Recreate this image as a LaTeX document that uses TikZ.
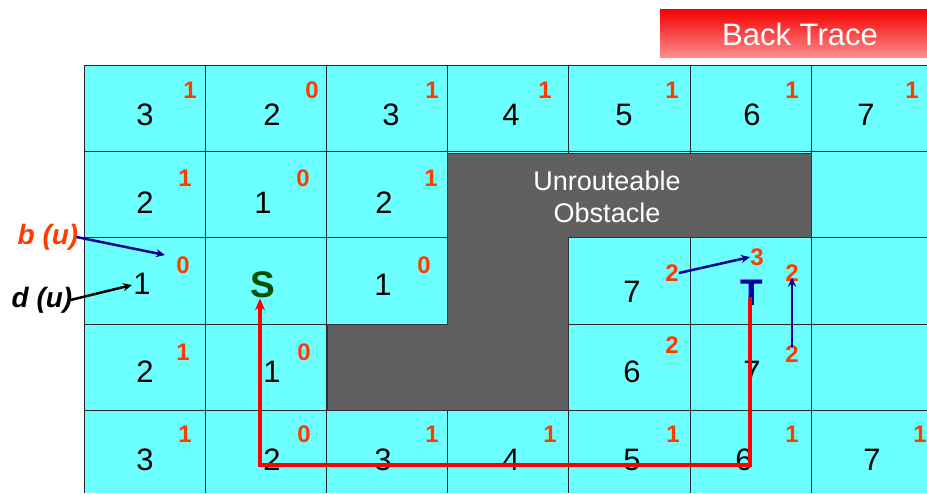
\documentclass[tikz,border=0pt]{standalone}
\usepackage{fontspec}
\setmainfont{Liberation Sans}
\usetikzlibrary{arrows.meta}
\definecolor{cellcyan}{RGB}{107,255,255}
\definecolor{obst}{RGB}{96,96,96}
\definecolor{rednum}{RGB}{255,60,0}
\definecolor{arrblue}{RGB}{0,0,150}
\definecolor{sgreen}{RGB}{0,80,0}
\definecolor{tblue}{RGB}{0,0,170}
\begin{document}
\begin{tikzpicture}[x=1pt,y=-1pt,
  num/.style={font=\fontsize{31}{33}\selectfont, inner sep=0pt},
  bnum/.style={font=\fontsize{24}{26}\selectfont\bfseries, text=rednum, inner sep=0pt},
  gridline/.style={line width=0.8pt, draw=black!85},
  bluearrow/.style={draw=arrblue, line width=2.5pt, -{Stealth[length=9pt,width=8pt]}},
  blackarrow/.style={draw=black, line width=2.5pt, -{Stealth[length=9pt,width=8pt]}},
  tracepath/.style={draw=red, line width=3.2pt, -{Stealth[length=12pt,width=10pt]}},
  lbl/.style={font=\fontsize{28}{30}\selectfont\bfseries\itshape, inner sep=1pt}]
\useasboundingbox (0,0) rectangle (927,493);
% background cells
\fill[cellcyan] (84,65) rectangle (927,493);
% grid
\foreach \x in {84,205,326,447,568,690,811} \draw[gridline] (\x,65) -- (\x,493);
\foreach \y in {65,151,237,324,410} \draw[gridline] (84,\y) -- (927,\y);
% obstacle
\draw[fill=obst, draw=black!80, line width=0.8pt]
  (447,153) -- (811,153) -- (811,237) -- (568,237) -- (568,410) -- (327,410)
  -- (327,324) -- (447,324) -- cycle;
\node[align=center, text=white, font=\fontsize{27}{32}\selectfont] (obsttext) at (607,197) {Unrouteable\\Obstacle};
% Back Trace button
\shade[top color=red!95!black, bottom color=red!45!white] (660,9) rectangle (927,57);
\node[text=white, font=\fontsize{31}{33}\selectfont] (backtrace) at (800,34) {Back Trace};
% row 0
\node[num] (n00) at (145,115) {3};
\node[num] (n01) at (272,115) {2};
\node[num] (n02) at (391,115) {3};
\node[num] (n03) at (511,115) {4};
\node[num] (n04) at (624,115) {5};
\node[num] (n05) at (752,115) {6};
\node[num] (n06) at (866,115) {7};
\node[bnum] (r00) at (190,90) {1};
\node[bnum] (r01) at (312,90) {0};
\node[bnum] (r02) at (432,90) {1};
\node[bnum] (r03) at (545,90) {1};
\node[bnum] (r04) at (672,90) {1};
\node[bnum] (r05) at (792,90) {1};
\node[bnum] (r06) at (912,90) {1};
% row 1
\node[num] (n10) at (145,203) {2};
\node[num] (n11) at (263,203) {1};
\node[num] (n12) at (384,203) {2};
\node[bnum] (r10) at (185,178) {1};
\node[bnum] (r11) at (303,178) {0};
\node[bnum] (r12) at (431,178) {1};
% row 2
\node[num] (n20) at (142,284) {1};
\node[font=\fontsize{37}{39}\selectfont\bfseries, text=sgreen, inner sep=0pt] (S) at (263,285) {S};
\node[num] (n22) at (383,285) {1};
\node[num] (n24) at (632,292) {7};
\node[font=\fontsize{37}{39}\selectfont\bfseries, text=tblue, inner sep=0pt] (T) at (752,293) {T};
\node[bnum] (r20) at (183,265) {0};
\node[bnum] (r22) at (424,265) {0};
\node[bnum] (r24) at (672,273) {2};
\node[bnum] (r25a) at (757,257) {3};
\node[bnum] (r25b) at (792,273) {2};
% row 3
\node[num] (n30) at (145,372) {2};
\node[num] (n31) at (272,372) {1};
\node[num] (n34) at (632,372) {6};
\node[num] (n35) at (752,372) {7};
\node[bnum] (r30) at (183,352) {1};
\node[bnum] (r31) at (304,352) {0};
\node[bnum] (r34) at (672,345) {2};
\node[bnum] (r35) at (792,354) {2};
% row 4
\node[num] (n40) at (145,460) {3};
\node[num] (n41) at (272,460) {2};
\node[num] (n42) at (383,460) {3};
\node[num] (n43) at (511,460) {4};
\node[num] (n44) at (632,460) {5};
\node[num] (n45) at (744,460) {6};
\node[num] (n46) at (872,460) {7};
\node[bnum] (r40) at (185,434) {1};
\node[bnum] (r41) at (304,434) {0};
\node[bnum] (r42) at (432,434) {1};
\node[bnum] (r43) at (550,434) {1};
\node[bnum] (r44) at (673,434) {1};
\node[bnum] (r45) at (792,434) {1};
\node[bnum] (r46) at (920,434) {1};
% labels
\node[lbl, text=rednum] (bu) at (48,237) {b (u)};
\node[lbl, text=black] (du) at (42,300) {d (u)};
\coordinate (butip) at (165,255);
\coordinate (dutip) at (132,285);
\draw[bluearrow] ([xshift=-3pt]bu.east) -- (butip);
\draw[blackarrow] ([xshift=-3pt]du.east) -- (dutip);
% arrows near T
\draw[bluearrow] (r24.east) -- (r25a.west);
\draw[bluearrow] ([yshift=-2pt]r35.north) -- ([yshift=4pt]r25b.south);
% back trace path
\coordinate (tstart) at (750,297);
\coordinate (corner1) at (750,465);
\coordinate (corner2) at (260,465);
\draw[tracepath, line join=miter] (tstart) -- (corner1) -- (corner2) -- (S.south -| corner2);
\end{tikzpicture}
\end{document}
